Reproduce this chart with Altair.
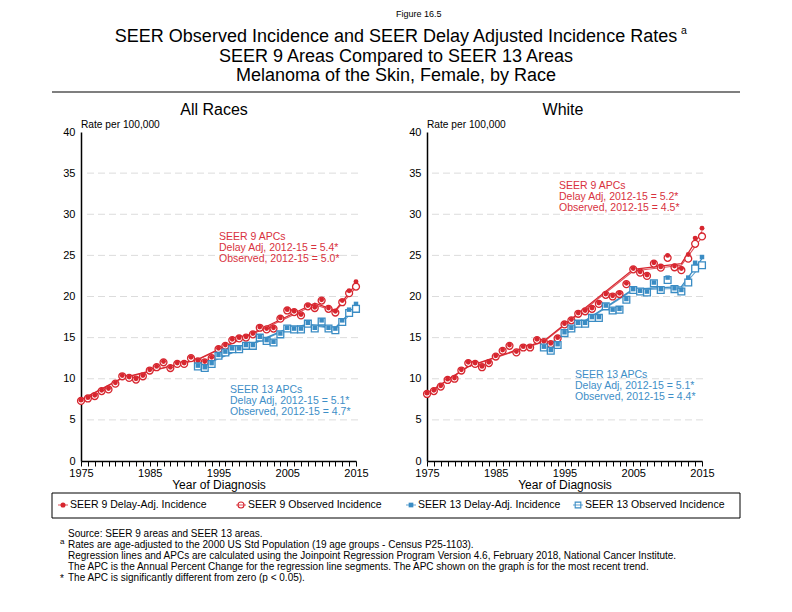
import altair as alt
import pandas as pd

M = 8  # page margin of the html body
W, H = 776, 596

# ---------------- data ----------------
years9 = list(range(1975, 2016))
years13 = list(range(1992, 2016))

all9_delay = [7.4, 7.7, 8.0, 8.6, 8.8, 9.5, 10.4, 10.2, 10.0, 10.4, 11.1, 11.5, 12.1, 11.4, 11.9, 11.9,
              12.6, 12.2, 12.1, 12.6, 13.7, 14.1, 14.8, 15.0, 15.1, 15.5, 16.3, 16.1, 16.2, 17.4, 18.4,
              18.2, 17.8, 18.9, 18.7, 19.6, 18.6, 18.2, 19.5, 20.7, 21.8]
all9_obs = [7.3, 7.6, 7.9, 8.5, 8.7, 9.4, 10.3, 10.1, 9.9, 10.3, 11.0, 11.4, 12.0, 11.3, 11.8, 11.8,
            12.5, 12.1, 12.0, 12.5, 13.6, 14.0, 14.7, 14.9, 15.0, 15.4, 16.2, 16.0, 16.1, 17.3, 18.3,
            18.1, 17.7, 18.8, 18.6, 19.5, 18.5, 18.05, 19.3, 20.4, 21.2]
all13_delay = [11.6, 11.4, 11.9, 12.9, 13.3, 13.7, 13.7, 14.1, 14.1, 15.1, 14.7, 14.5, 15.5, 16.2, 16.1,
               16.1, 16.8, 16.2, 17.1, 16.2, 16.1, 17.1, 18.4, 19.1]
all13_obs = [11.5, 11.3, 11.8, 12.8, 13.2, 13.6, 13.6, 14.0, 14.0, 15.0, 14.6, 14.4, 15.4, 16.1, 16.0,
             16.0, 16.7, 16.1, 16.95, 16.1, 15.9, 16.9, 18.0, 18.5]

wh9_delay = [8.25, 8.6, 9.15, 9.95, 10.1, 11.1, 12.0, 11.9, 11.5, 12.0, 12.8, 13.5, 14.1, 13.3, 13.9, 13.9,
             14.8, 14.55, 14.3, 15.0, 16.7, 17.2, 18.0, 18.3, 18.6, 19.2, 20.3, 20.1, 20.4, 21.6, 23.4,
             23.0, 22.6, 24.1, 23.6, 25.0, 23.7, 23.4, 25.1, 27.1, 28.3]
wh9_obs = [8.15, 8.5, 9.05, 9.85, 10.0, 11.0, 11.9, 11.8, 11.4, 11.9, 12.7, 13.4, 14.0, 13.2, 13.8, 13.8,
           14.7, 14.45, 14.2, 14.9, 16.6, 17.1, 17.9, 18.2, 18.5, 19.1, 20.2, 20.0, 20.3, 21.5, 23.3,
           22.9, 22.5, 24.0, 23.5, 24.7, 23.55, 23.2, 24.6, 26.4, 27.3]
wh13_delay = [13.9, 13.5, 14.2, 15.65, 16.2, 16.8, 16.8, 17.5, 17.5, 18.9, 18.4, 18.5, 19.7, 20.9, 20.7,
              20.6, 21.7, 20.9, 22.3, 21.0, 20.8, 22.3, 24.1, 24.8]
wh13_obs = [13.8, 13.4, 14.1, 15.55, 16.1, 16.7, 16.7, 17.4, 17.4, 18.8, 18.3, 18.4, 19.6, 20.8, 20.6,
            20.5, 21.6, 20.8, 22.0, 20.9, 20.6, 21.7, 23.4, 23.8]

# joinpoint regression lines (fitted values at the joinpoints)
all9_jp_years = [1975, 1981, 1992, 2009, 2012, 2015]
all9_jp_delay = [7.45, 10.1, 12.35, 19.2, 18.3, 21.5]
all9_jp_obs = [7.4, 10.05, 12.3, 19.0, 18.2, 21.1]
all13_jp_years = [1992, 2005, 2008, 2012, 2015]
all13_jp_delay = [11.4, 16.1, 16.6, 16.2, 18.8]
all13_jp_obs = [11.35, 16.0, 16.5, 16.1, 18.5]
wh9_jp_years = [1975, 1981, 1992, 2005, 2012, 2015]
wh9_jp_delay = [8.2, 11.5, 14.6, 23.3, 24.0, 27.9]
wh9_jp_obs = [8.15, 11.45, 14.5, 23.1, 23.8, 27.2]
wh13_jp_years = [1992, 2005, 2012, 2015]
wh13_jp_delay = [13.8, 20.9, 21.2, 24.6]
wh13_jp_obs = [13.7, 20.8, 21.0, 23.9]

y_ticks = [0, 5, 10, 15, 20, 25, 30, 35, 40]
grid_vals = [5, 10, 15, 20, 25, 30, 35]

panel_titles = ["All Races", "White"]
apc9_left = ["SEER 9 APCs", "Delay Adj, 2012-15 = 5.4*", "Observed, 2012-15 = 5.0*"]
apc13_left = ["SEER 13 APCs", "Delay Adj, 2012-15 = 5.1*", "Observed, 2012-15 = 4.7*"]
apc9_right = ["SEER 9 APCs", "Delay Adj, 2012-15 = 5.2*", "Observed, 2012-15 = 4.5*"]
apc13_right = ["SEER 13 APCs", "Delay Adj, 2012-15 = 5.1*", "Observed, 2012-15 = 4.4*"]
legend_labels = ["SEER 9 Delay-Adj. Incidence", "SEER 9 Observed Incidence",
                 "SEER 13 Delay-Adj. Incidence", "SEER 13 Observed Incidence"]
footnotes = [
    "Source: SEER 9 areas and SEER 13 areas.",
    "Rates are age-adjusted to the 2000 US Std Population (19 age groups - Census P25-1103).",
    "Regression lines and APCs are calculated using the Joinpoint Regression Program Version 4.6, February 2018, National Cancer Institute.",
    "The APC is the Annual Percent Change for the regression line segments. The APC shown on the graph is for the most recent trend.",
    "The APC is significantly different from zero (p < 0.05).",
]

# ---------------- styling ----------------
RED = "#d7262f"
BLUE = "#3a8cc4"
RED_TXT = "#d8323e"
BLUE_TXT = "#3d8ec7"
FONT = "Liberation Sans"
ONE = pd.DataFrame({"d": [0]})

YSC = dict(domain=[0, 40], range=[461 - M, 132 - M], nice=False, zero=False)
LEFT_RNG = [81 - M, 356 - M]
RIGHT_RNG = [427 - M, 702 - M]


def df(years, vals):
    return pd.DataFrame({"year": years, "rate": vals})


def enc_xy(rng):
    return dict(
        x=alt.X("year:Q", scale=alt.Scale(domain=[1975, 2015], range=rng, nice=False, zero=False), axis=None),
        y=alt.Y("rate:Q", scale=alt.Scale(**YSC), axis=None),
    )


def txt(s, x, y, size=11, color="black", align="left", baseline="middle", font=FONT):
    return alt.Chart(ONE).mark_text(fontSize=size, color=color, align=align, baseline=baseline,
                                    font=font).encode(
        x=alt.value(x - M), y=alt.value(y - M), text=alt.value(s))


def panel(rng, d9, o9, d13, o13, jy9, jd9, jo9, jy13, jd13, jo13, grid_x0, grid_x1):
    e = enc_xy(rng)
    layers = []
    # grid lines
    layers.append(alt.Chart(pd.DataFrame({"g": grid_vals})).mark_rule(
        color="#dcdcdc", strokeDash=[7, 4], strokeWidth=1).encode(
        y=alt.Y("g:Q", scale=alt.Scale(**YSC), axis=None),
        x=alt.value(grid_x0 - M), x2=alt.value(grid_x1 - M)))
    # regression lines
    layers.append(alt.Chart(df(jy9, jo9)).mark_line(color=RED, strokeWidth=1.1, opacity=0.8).encode(**e))
    layers.append(alt.Chart(df(jy9, jd9)).mark_line(color=RED, strokeWidth=1.3).encode(**e))
    layers.append(alt.Chart(df(jy13, jo13)).mark_line(color=BLUE, strokeWidth=1.1, opacity=0.8).encode(**e))
    layers.append(alt.Chart(df(jy13, jd13)).mark_line(color=BLUE, strokeWidth=1.3).encode(**e))
    # SEER 9 points
    layers.append(alt.Chart(df(years9, o9)).mark_point(shape="circle", size=48, filled=False, fill="white",
                                                       fillOpacity=1, stroke=RED, strokeWidth=1.3,
                                                       opacity=1).encode(**e))
    layers.append(alt.Chart(df(years9, d9)).mark_point(shape="circle", size=24, filled=True, color=RED,
                                                       opacity=1).encode(**e))
    # SEER 13 points
    layers.append(alt.Chart(df(years13, o13)).mark_point(shape="square", size=46, filled=False, fill="white",
                                                         fillOpacity=1, stroke=BLUE, strokeWidth=1.3,
                                                         opacity=1).encode(**e))
    layers.append(alt.Chart(df(years13, d13)).mark_point(shape="square", size=20, filled=True, color=BLUE,
                                                         opacity=1).encode(**e))
    # axes carrier
    xaxis = alt.Axis(orient="bottom", offset=-(H - YSC["range"][0]), values=years9, format="d",
                     labelExpr="(datum.value - 1975) % 10 == 0 ? datum.label : ''",
                     tickSize=5, tickColor="black", tickWidth=1, domainColor="black", domainWidth=1.5,
                     labelFont=FONT, labelFontSize=11, labelColor="black", labelPadding=1,
                     labelOverlap=False, labelFlush=False, labelBound=False,
                     title="Year of Diagnosis", titleFont=FONT, titleFontSize=12, titleFontWeight="normal",
                     titleColor="black", titlePadding=1, grid=False)
    yaxis = alt.Axis(orient="left", offset=-rng[0], values=y_ticks, ticks=False, labelPadding=6,
                     domainColor="black", domainWidth=1.5, labelFont=FONT, labelFontSize=11,
                     labelColor="black", grid=False, title=None, labelOverlap=False)
    layers.append(alt.Chart(df(years9, d9)).mark_point(opacity=0).encode(
        x=alt.X("year:Q", scale=alt.Scale(domain=[1975, 2015], range=rng, nice=False, zero=False), axis=xaxis),
        y=alt.Y("rate:Q", scale=alt.Scale(**YSC), axis=yaxis)))
    return layers


layers = []
layers += panel(LEFT_RNG, all9_delay, all9_obs, all13_delay, all13_obs,
                all9_jp_years, all9_jp_delay, all9_jp_obs, all13_jp_years, all13_jp_delay, all13_jp_obs,
                87, 358)
layers += panel(RIGHT_RNG, wh9_delay, wh9_obs, wh13_delay, wh13_obs,
                wh9_jp_years, wh9_jp_delay, wh9_jp_obs, wh13_jp_years, wh13_jp_delay, wh13_jp_obs,
                432, 705)

# titles
layers.append(txt("Figure 16.5", 396, 14, size=9))
layers.append(txt("SEER Observed Incidence and SEER Delay Adjusted Incidence Rates", 396, 37, size=18,
                  align="center"))
layers.append(txt("a", 681, 31, size=10.5))
layers.append(txt("SEER 9 Areas Compared to SEER 13 Areas", 396, 57, size=18, align="center"))
layers.append(txt("Melanoma of the Skin, Female, by Race", 396, 76, size=18, align="center"))
layers.append(alt.Chart(ONE).mark_rule(color="black", strokeWidth=1.2).encode(
    x=alt.value(52 - M), x2=alt.value(740 - M), y=alt.value(92 - M)))

# panel titles / axis captions
layers.append(txt(panel_titles[0], 214, 110, size=16, align="center"))
layers.append(txt(panel_titles[1], 563, 110, size=16, align="center"))
layers.append(txt("Rate per 100,000", 81, 125, size=10.2))
layers.append(txt("Rate per 100,000", 427, 125, size=10.2))

# APC annotations
for i, s in enumerate(apc9_left):
    layers.append(txt(s, 219, 237 + 11 * i, size=10.5, color=RED_TXT))
for i, s in enumerate(apc13_left):
    layers.append(txt(s, 230, 390 + 11 * i, size=10.5, color=BLUE_TXT))
for i, s in enumerate(apc9_right):
    layers.append(txt(s, 559, 186 + 11 * i, size=10.5, color=RED_TXT))
for i, s in enumerate(apc13_right):
    layers.append(txt(s, 575, 375 + 11 * i, size=10.5, color=BLUE_TXT))

# legend box
layers.append(alt.Chart(ONE).mark_rect(fill="white", stroke="black", strokeWidth=1).encode(
    x=alt.value(52 - M), x2=alt.value(740 - M), y=alt.value(493 - M), y2=alt.value(518 - M)))
leg_sym_x = [63, 241, 411, 578]
leg_style = [
    dict(shape="circle", size=26, filled=True, color=RED),
    dict(shape="circle", size=36, filled=False, stroke=RED, strokeWidth=1.1),
    dict(shape="square", size=22, filled=True, color=BLUE),
    dict(shape="square", size=32, filled=False, stroke=BLUE, strokeWidth=1.1),
]
leg_line = [RED, RED, BLUE, BLUE]
LY = 505
for sx, st, lc, lab in zip(leg_sym_x, leg_style, leg_line, legend_labels):
    layers.append(alt.Chart(ONE).mark_rule(color=lc, strokeWidth=1, opacity=0.8).encode(
        x=alt.value(sx - 5 - M), x2=alt.value(sx + 5 - M), y=alt.value(LY - M)))
    layers.append(alt.Chart(ONE).mark_point(opacity=1, **st).encode(
        x=alt.value(sx - M), y=alt.value(LY - M)))
    layers.append(txt(lab, sx + 7, LY, size=10.5))

# footnotes
fy = [534, 545, 556, 567, 578]
for s, y in zip(footnotes, fy):
    layers.append(txt(s, 68, y, size=10))
layers.append(txt("a", 60, 542, size=8))
layers.append(txt("*", 60, 579, size=10))

chart = alt.layer(*layers).resolve_scale(x="independent", y="independent").properties(
    width=W, height=H, padding=0, autosize=alt.AutoSizeParams(type="none")
).configure_view(stroke=None)

chart.save("out.html", embed_options={"renderer": "svg", "actions": False})
